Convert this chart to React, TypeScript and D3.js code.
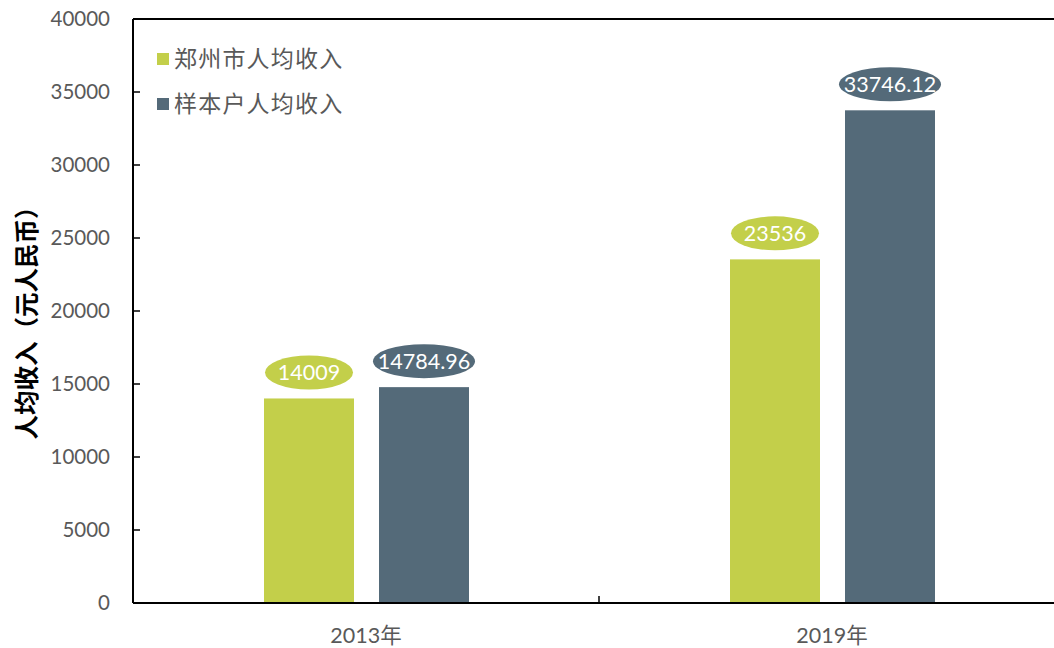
import React from "react";
import * as d3 from "d3";

const categories = ["2013年", "2019年"];
const seriesNames = ["郑州市人均收入", "样本户人均收入"];
const zhengzhou = [14009, 23536];
const sample = [14784.96, 33746.12];
const labelsZZ = ["14009", "23536"];
const labelsSample = ["14784.96", "33746.12"];
const yTicks = [0, 5000, 10000, 15000, 20000, 25000, 30000, 35000, 40000];

const colors = ["#C3CF4A", "#546A79"];
const FONT = "Lato, 'Noto Sans CJK SC', sans-serif";

export default function App() {
  const W = 1054, H = 648;
  const left = 133, top = 19, bottom = 603, right = 1065;
  const x = d3.scaleBand<string>().domain(categories).range([left, right]);
  const y = d3.scaleLinear().domain([0, 40000]).range([bottom, top]);
  const barW = 90;
  const offsets = [-102, 13];
  const series = [zhengzhou, sample];
  const labels = [labelsZZ, labelsSample];
  const rx = [44, 51];

  return (
    <svg width={W} height={H} style={{ position: "absolute", left: 0, top: 0, background: "#fff" }}>
      <line x1={left} x2={W} y1={top} y2={top} stroke="#000" strokeWidth={2} />
      <line x1={left} x2={left} y1={top} y2={bottom} stroke="#000" strokeWidth={2} />
      {yTicks.map((t) => (
        <g key={t}>
          <line x1={left} x2={left + 7} y1={y(t)} y2={y(t)} stroke="#000" strokeWidth={1.5} />
          <text x={110} y={y(t)} dy="0.35em" textAnchor="end" fontSize={20.5} fill="#595959" fontFamily={FONT}>
            {t}
          </text>
        </g>
      ))}
      {categories.map((c, ci) =>
        series.map((s, si) => {
          const bx = (x(c) as number) + x.bandwidth() / 2 + offsets[si];
          const by = y(s[ci]);
          const cx = bx + barW / 2;
          const cy = by - 26;
          return (
            <g key={c + si}>
              <rect x={bx} y={by} width={barW} height={bottom - by} fill={colors[si]} />
              <ellipse cx={cx} cy={cy} rx={rx[si]} ry={17} fill={colors[si]} />
              <text x={cx} y={cy} dy="0.36em" textAnchor="middle" fontSize={21.5} fill="#fff" fontFamily={FONT}>
                {labels[si][ci]}
              </text>
            </g>
          );
        })
      )}
      <line x1={left} x2={W} y1={bottom} y2={bottom} stroke="#000" strokeWidth={2} />
      {categories.slice(1).map((c) => (
        <line key={c} x1={x(c) as number} x2={x(c) as number} y1={bottom} y2={bottom - 7} stroke="#000" strokeWidth={1.5} />
      ))}
      {categories.map((c) => (
        <text key={c} x={(x(c) as number) + x.bandwidth() / 2} y={635} dy="0.35em" textAnchor="middle" fontSize={21.5} fill="#595959" fontFamily={FONT}>
          {c}
        </text>
      ))}
      {seriesNames.map((n, i) => (
        <g key={n} transform={`translate(157, ${59 + i * 45})`}>
          <rect x={0} y={-6} width={12} height={12} fill={colors[i]} />
          <text x={17} y={0} dy="0.36em" fontSize={23} letterSpacing={1.2} fill="#595959" fontFamily={FONT}>
            {n}
          </text>
        </g>
      ))}
      <text
        transform={`translate(27, ${317}) rotate(-90)`}
        textAnchor="middle"
        dy="0.36em"
        fontSize={24.5}
        fontWeight="bold"
        fill="#000"
        fontFamily={FONT}
      >
        人均收入（元人民币）
      </text>
    </svg>
  );
}
